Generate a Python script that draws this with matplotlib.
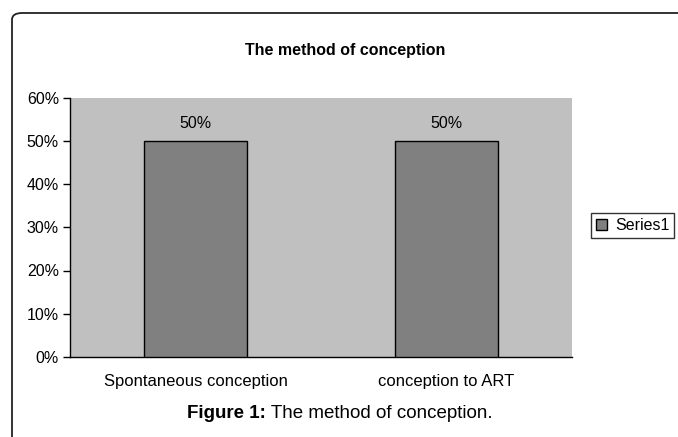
import numpy as np
import matplotlib.pyplot as plt
from matplotlib.patches import FancyBboxPatch

plt.rcParams["font.family"] = ["Liberation Sans", "DejaVu Sans"]

# data
categories = ["Spontaneous conception", "conception to ART"]
values = [50, 50]
series_name = "Series1"
yticks = [0, 10, 20, 30, 40, 50, 60]

fig = plt.figure(figsize=(6.78, 4.37), dpi=100)

# outer rounded frame (runs off the right and bottom edges)
frame = FancyBboxPatch((12 / 678, -0.2), 1.2, 1.2 - 13 / 437,
                       boxstyle="round,pad=0,rounding_size=0.015",
                       transform=fig.transFigure, fill=False,
                       edgecolor="#222222", linewidth=1.3)
fig.patches.append(frame)

ax = fig.add_axes([70 / 678, 1 - 357 / 437, 502 / 678, (357 - 97.5) / 437])
ax.set_facecolor("#C0C0C0")

x = np.arange(len(categories))
bars = ax.bar(x, values, width=0.41, color="#808080", edgecolor="black",
              linewidth=1, label=series_name, zorder=3)

for b, v in zip(bars, values):
    ax.annotate(f"{v}%", (b.get_x() + b.get_width() / 2, v),
                xytext=(0, 7), textcoords="offset points",
                ha="center", va="bottom", fontsize=11.5)

ax.set_xlim(-0.5, len(categories) - 0.5)
ax.set_ylim(0, 60)
ax.set_yticks(yticks)
ax.set_yticklabels([f"{t}%" for t in yticks], fontsize=11.5)
ax.set_xticks(x)
ax.set_xticklabels(categories, fontsize=12)
ax.tick_params(axis="x", length=0, pad=12)
ax.tick_params(axis="y", length=5, width=1, pad=3)
for s in ["top", "right"]:
    ax.spines[s].set_visible(False)
for s in ["left", "bottom"]:
    ax.spines[s].set_color("black")
    ax.spines[s].set_linewidth(1)

fig.text(345 / 678, 1 - 50 / 437, "The method of conception",
         ha="center", va="center", fontsize=11.5, fontweight="bold")

leg = fig.legend(loc="upper left", bbox_to_anchor=(591 / 678, 1 - 213 / 437),
                 fontsize=11.5, frameon=True, fancybox=False,
                 handlelength=0.7, handleheight=0.7, handletextpad=0.5,
                 borderpad=0.3, borderaxespad=0)
leg.get_frame().set_edgecolor("black")
leg.get_frame().set_linewidth(1)

# caption: bold "Figure 1:" followed by regular text, centred as a whole
cap_y = 1 - 413 / 437
t1 = fig.text(0, cap_y, "Figure 1:", ha="left", va="center",
              fontsize=13.5, fontweight="bold")
t2 = fig.text(0, cap_y, " The method of conception.", ha="left",
              va="center", fontsize=13.5)
fig.canvas.draw()
r = fig.canvas.get_renderer()
w1 = t1.get_window_extent(renderer=r).width
w2 = t2.get_window_extent(renderer=r).width
x0 = 340 - (w1 + w2) / 2
t1.set_x(x0 / 678)
t2.set_x((x0 + w1) / 678)

fig.savefig("out.png", dpi=100)
